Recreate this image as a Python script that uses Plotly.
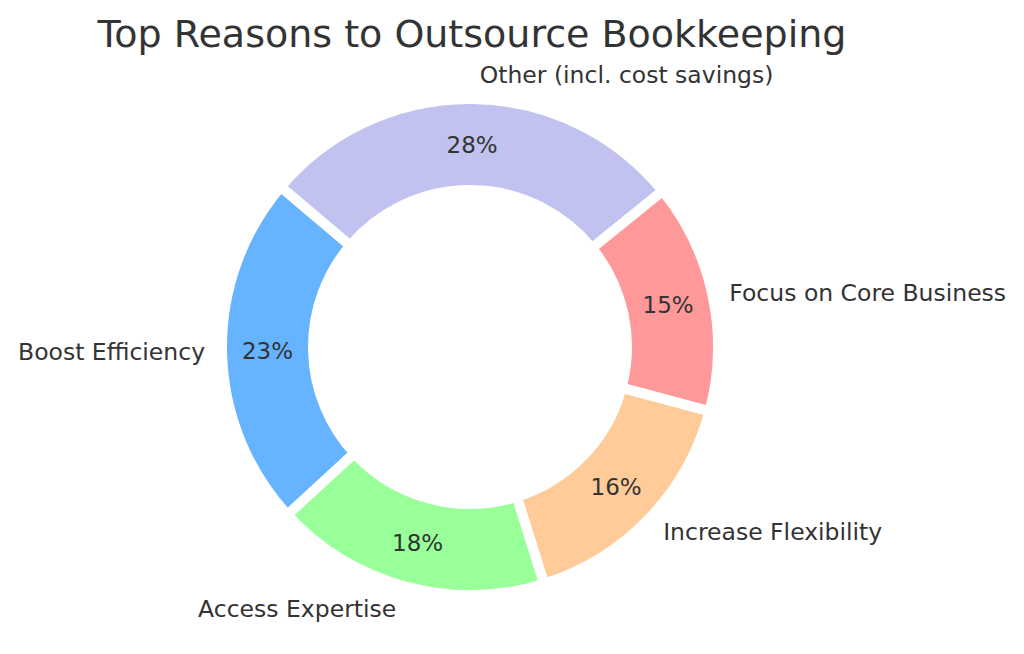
import plotly.graph_objects as go

# dados do gráfico (ordem anti-horária, começando por "Other")
reasons = ["Other (incl. cost savings)", "Boost Efficiency", "Access Expertise",
           "Increase Flexibility", "Focus on Core Business"]
shares = [28, 23, 18, 16, 15]
cores = ["#c2c2f0", "#66b3ff", "#99ff99", "#ffcc99", "#ff9999"]

W, H = 1024, 654
cx, cy, raio = 462, 339, 248   # centro e raio do anel em pixels


def dominio(r):
    return dict(x=[(cx - r) / W, (cx + r) / W], y=[(H - cy - r) / H, (H - cy + r) / H])


fonte = dict(family="DejaVu Sans", color="#333333")
giro = -49.8

fig = go.Figure()

# anel com as porcentagens
fig.add_trace(go.Pie(
    labels=reasons, values=shares, sort=False, direction="counterclockwise",
    rotation=giro, hole=0.633, domain=dominio(raio),
    marker=dict(colors=cores, line=dict(color="white", width=10)),
    textinfo="percent", texttemplate="%{percent:.0%}", textposition="inside",
    insidetextorientation="horizontal",
    textfont=dict(size=23, **fonte), hoverinfo="label+percent",
))

# mesma pizza, transparente e um pouco maior, só para os rótulos de fora
fig.add_trace(go.Pie(
    labels=reasons, values=shares, sort=False, direction="counterclockwise",
    rotation=giro, hole=0.9, domain=dominio(raio * 1.04),
    marker=dict(colors=["rgba(0,0,0,0)"] * len(shares), line=dict(width=0)),
    textinfo="label", textposition="outside",
    textfont=dict(size=23.5, **fonte), hoverinfo="skip",
))

fig.update_layout(
    width=W, height=H,
    margin=dict(l=0, r=0, t=0, b=0),
    paper_bgcolor="white", plot_bgcolor="white",
    showlegend=False,
    title=dict(text="Top Reasons to Outsource Bookkeeping",
               x=464 / W, xanchor="center", y=1 - 26 / H, yanchor="middle",
               yref="container", font=dict(size=38, **fonte)),
)

fig.write_html("out.html")
